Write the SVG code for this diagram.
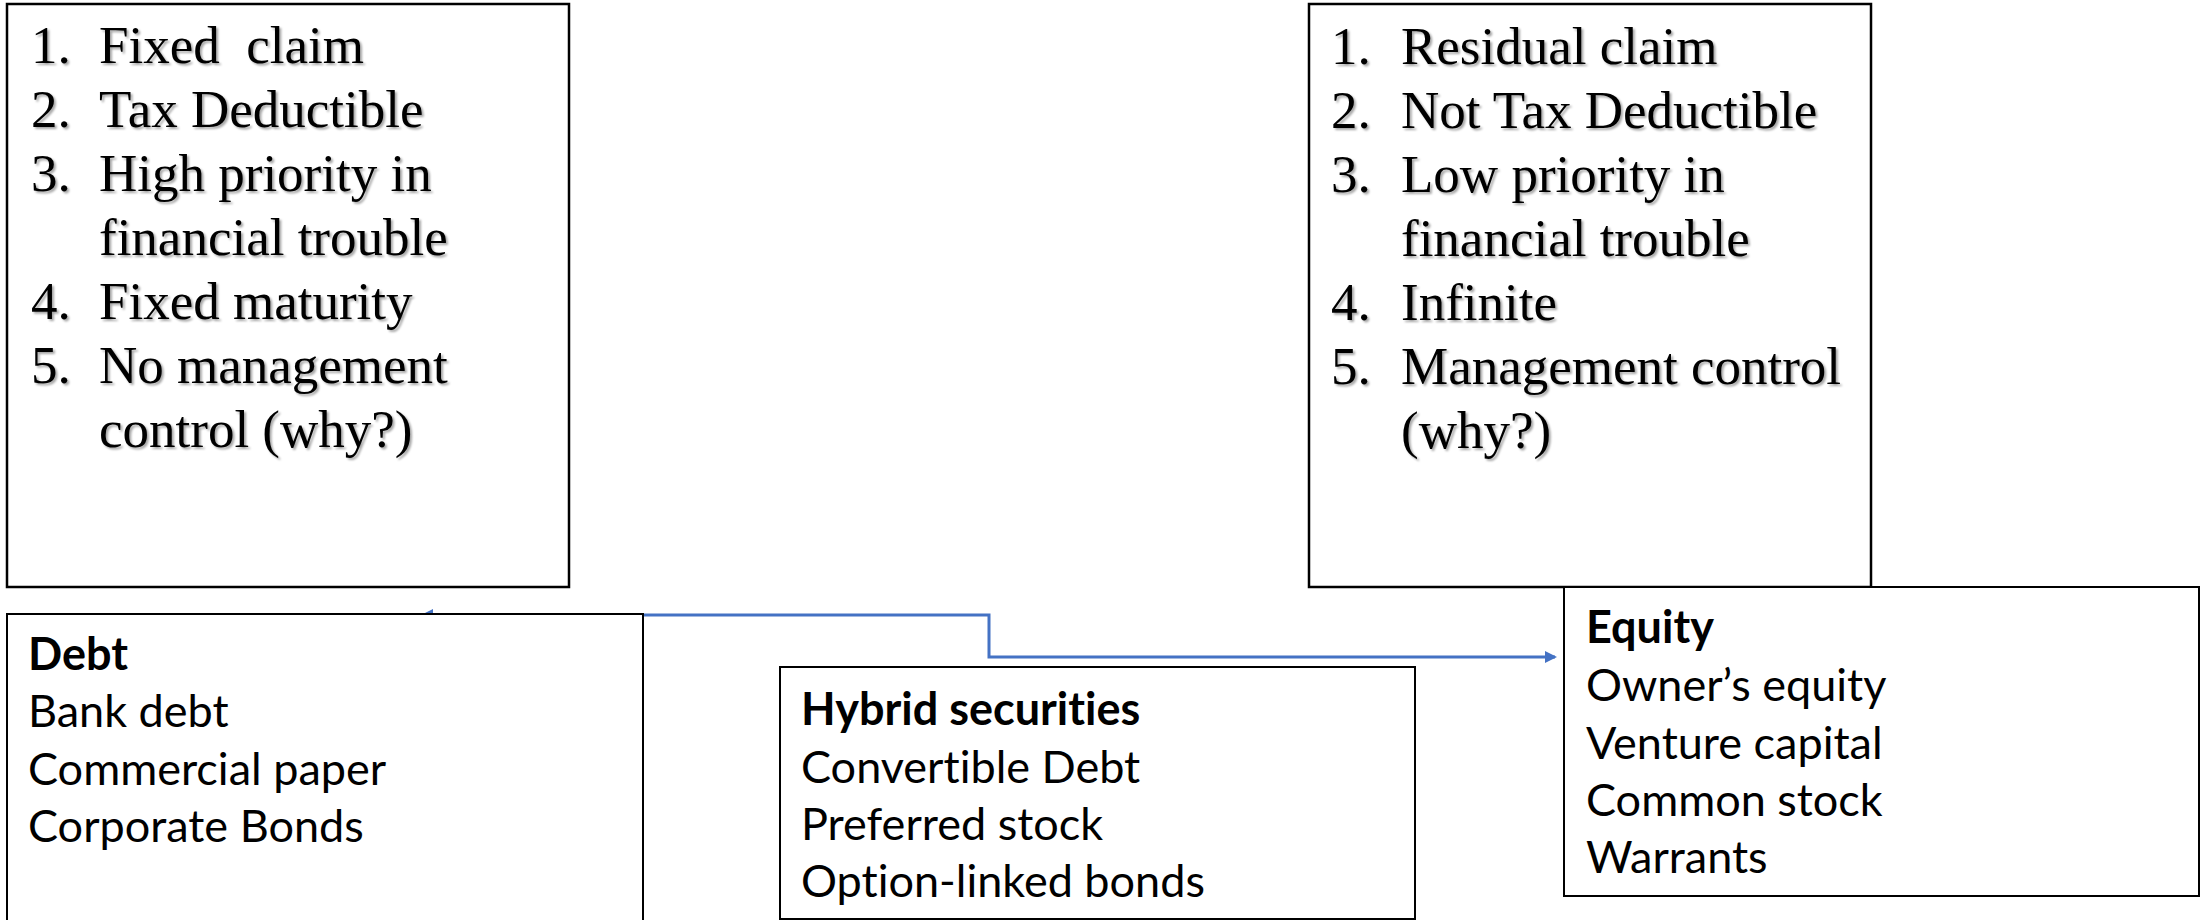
<svg xmlns="http://www.w3.org/2000/svg" width="2212" height="920" viewBox="0 0 2212 920">
<style>
.box{fill:#fff;stroke:#000;stroke-width:2.5}
.ser{font-family:"Liberation Serif","Times New Roman",serif;font-size:53px;fill:#000;white-space:pre}
.sans{font-family:Lato,"Liberation Sans",sans-serif;font-size:45px;fill:#000;font-variant-ligatures:none;font-feature-settings:"liga" 0}
.b{font-weight:bold}
.conn{fill:none;stroke:#4472C4;stroke-width:3}
</style>
<defs>
<filter id="sh" x="-5%" y="-5%" width="110%" height="110%">
<feDropShadow dx="2" dy="2" stdDeviation="1" flood-color="#000" flood-opacity="0.35"/>
</filter>
<marker id="arr" markerWidth="12" markerHeight="12" refX="10" refY="6" orient="auto" markerUnits="userSpaceOnUse" viewBox="0 0 12 12">
<path d="M0,0 L12,6 L0,12 z" fill="#4472C4"/>
</marker>
<marker id="arrs" markerWidth="12" markerHeight="12" refX="10" refY="6" orient="auto-start-reverse" markerUnits="userSpaceOnUse" viewBox="0 0 12 12">
<path d="M0,0 L12,6 L0,12 z" fill="#4472C4"/>
</marker>
</defs>
<rect width="2212" height="920" fill="#fff"/>
<g id="connectors">
<path class="conn" d="M423,615 H989 V657 H1555" marker-start="url(#arrs)" marker-end="url(#arr)"/>
</g>
<g id="debt-props">
<rect class="box" x="7" y="4" width="562" height="583"/>
<g class="ser" filter="url(#sh)">
<text x="31" y="63">1.</text><text x="99" y="63" xml:space="preserve">Fixed  claim</text>
<text x="31" y="127">2.</text><text x="99" y="127">Tax Deductible</text>
<text x="31" y="191">3.</text><text x="99" y="191">High priority in</text>
<text x="99" y="255">financial trouble</text>
<text x="31" y="319">4.</text><text x="99" y="319">Fixed maturity</text>
<text x="31" y="383">5.</text><text x="99" y="383">No management</text>
<text x="99" y="447">control (why?)</text>
</g>
</g>
<g id="equity-props">
<rect class="box" x="1309" y="4" width="562" height="583"/>
<g class="ser" filter="url(#sh)">
<text x="1331" y="64">1.</text><text x="1401" y="64">Residual claim</text>
<text x="1331" y="128">2.</text><text x="1401" y="128">Not Tax Deductible</text>
<text x="1331" y="192">3.</text><text x="1401" y="192">Low priority in</text>
<text x="1401" y="256">financial trouble</text>
<text x="1331" y="320">4.</text><text x="1401" y="320">Infinite</text>
<text x="1331" y="384">5.</text><text x="1401" y="384">Management control</text>
<text x="1401" y="448">(why?)</text>
</g>
</g>
<g id="debt">
<rect class="box" x="7" y="614" width="636" height="320" style="stroke-width:2"/>
<g class="sans">
<text class="b" x="28" y="670">Debt</text>
<text x="28" y="727">Bank debt</text>
<text x="28" y="785">Commercial paper</text>
<text x="28" y="842">Corporate Bonds</text>
</g>
</g>
<g id="hybrid">
<rect class="box" x="780" y="667" width="635" height="252" style="stroke-width:2"/>
<g class="sans">
<text class="b" x="801" y="725">Hybrid securities</text>
<text x="801" y="783">Convertible Debt</text>
<text x="801" y="840">Preferred stock</text>
<text x="801" y="897">Option-linked bonds</text>
</g>
</g>
<g id="equity">
<rect class="box" x="1564" y="587" width="635" height="309" style="stroke-width:2"/>
<g class="sans">
<text class="b" x="1586" y="643">Equity</text>
<text x="1586" y="701">Owner’s equity</text>
<text x="1586" y="759">Venture capital</text>
<text x="1586" y="816">Common stock</text>
<text x="1586" y="873">Warrants</text>
</g>
</g>
</svg>
